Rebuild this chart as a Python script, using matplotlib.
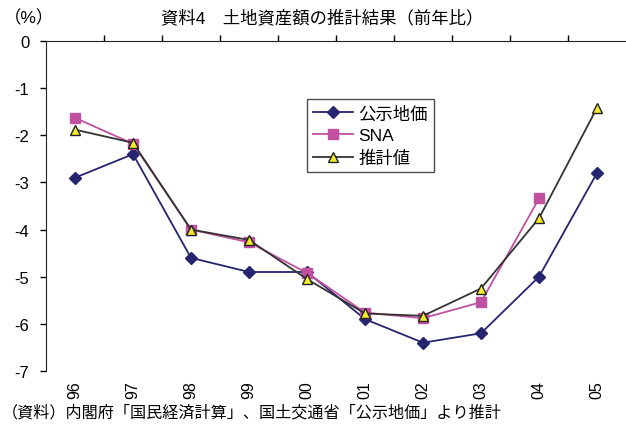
import matplotlib
matplotlib.use("Agg")
import matplotlib.pyplot as plt
import matplotlib.transforms as mtransforms

plt.rcParams['font.family'] = ['Liberation Sans', 'Noto Sans CJK JP']
plt.rcParams['axes.unicode_minus'] = False

years = ['96', '97', '98', '99', '00', '01', '02', '03', '04', '05']
koji_chika = [-2.9, -2.4, -4.6, -4.9, -4.9, -5.9, -6.4, -6.2, -5.0, -2.8]
sna = [-1.63, -2.18, -4.0, -4.27, -4.92, -5.76, -5.88, -5.54, -3.34]
suikei = [-1.88, -2.16, -4.0, -4.22, -5.05, -5.78, -5.83, -5.25, -3.76, -1.42]

fig = plt.figure(figsize=(6.26, 4.27), dpi=100)
ax = fig.add_axes([46 / 626, 1 - 372 / 427, 580 / 626, 330 / 427])

x = list(range(len(years)))
ax.plot(x, koji_chika, color='#25256f', lw=1.3, marker='D', ms=6,
        mfc='#25256f', mec='#25256f', label='公示地価')
ax.plot(x[:len(sna)], sna, color='#c050a0', lw=1.3, marker='s', ms=7,
        mfc='#c050a0', mec='#c050a0', label='SNA')
ax.plot(x, suikei, color='#333333', lw=1.3, marker='^', ms=7,
        mfc='#f2ea2a', mec='#222222', mew=1.0, label='推計値')

ax.set_xlim(-0.5, len(years) - 0.5)
ax.set_ylim(-7, 0)
ax.set_yticks(range(-7, 1))
ax.set_yticklabels([str(v) for v in range(-7, 1)], fontsize=12)
ax.tick_params(axis='y', direction='out', length=4, width=1, pad=8)

# category axis sits at 0, ticks between categories
ax.xaxis.tick_top()
ax.set_xticks([i + 0.5 for i in range(len(years) - 1)])
ax.tick_params(axis='x', direction='out', length=4, width=1, labeltop=False)
for s in ['right', 'bottom']:
    ax.spines[s].set_visible(False)
for s in ['left', 'top']:
    ax.spines[s].set_color('#222222')

trans = mtransforms.blended_transform_factory(ax.transData, fig.transFigure)
for i, yr in enumerate(years):
    ax.text(i, 1 - 390 / 427, yr, transform=trans, rotation=90,
            ha='center', va='center', fontsize=11.5)

leg = ax.legend(loc='upper left', bbox_to_anchor=(307 / 626, 1 - 100 / 427),
                bbox_transform=fig.transFigure, borderaxespad=0,
                fontsize=12.5, frameon=True, fancybox=False,
                edgecolor='#222222', handlelength=2.3, borderpad=0.35,
                labelspacing=0.4, handletextpad=0.3)
leg.get_frame().set_linewidth(1.0)

fig.text(4 / 626, 1 - 18 / 427, '（%）', fontsize=12.5, va='center', ha='left')
fig.text(322 / 626, 1 - 18 / 427, '資料4　土地資産額の推計結果（前年比）',
         fontsize=12.5, va='center', ha='center')
fig.text(2 / 626, 1 - 413 / 427, '（資料）内閣府「国民経済計算」、国土交通省「公示地価」より推計',
         fontsize=11.6, va='center', ha='left')

fig.savefig('out.png', dpi=100)
